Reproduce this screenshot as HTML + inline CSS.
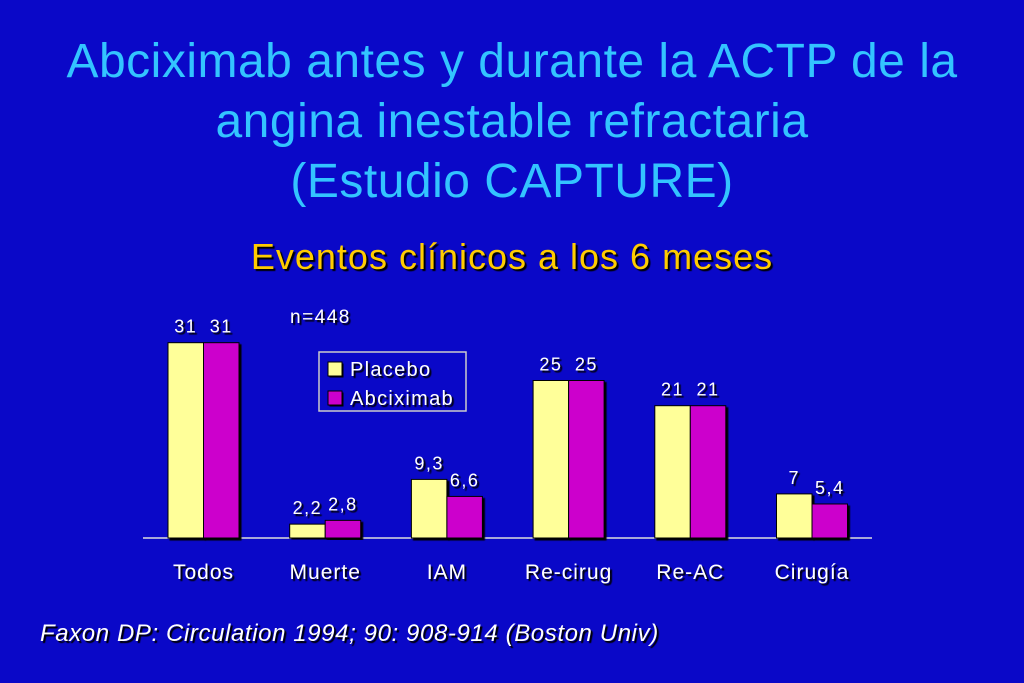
<!DOCTYPE html>
<html><head><meta charset="utf-8"><style>
body{margin:0;width:1024px;height:683px;background:#0a08c8;overflow:hidden;font-family:"Liberation Sans",sans-serif;position:relative}
.t{position:absolute;left:0;width:1024px;text-align:center;color:#33c4ff;font-size:48px;line-height:60px;letter-spacing:0.5px}
.s{position:absolute;left:0;width:1024px;text-align:center;top:236px;color:#ffcc00;font-size:36px;letter-spacing:1px;text-shadow:2px 2px 1px #000}
.ref{position:absolute;left:40px;top:620px;color:#fff;font-style:italic;font-size:24px;letter-spacing:0.6px;text-shadow:2px 2px 1px #000}
svg text{font-family:"Liberation Sans",sans-serif;fill:#fff}
</style></head><body>
<div class="t" style="top:32px">Abciximab antes y durante la ACTP de la<br>angina inestable refractaria<br>(Estudio CAPTURE)</div>
<div class="s">Eventos clínicos a los 6 meses</div>
<div class="ref">Faxon DP: Circulation 1994; 90: 908-914 (Boston Univ)</div>
<svg id="c" width="1024" height="683" style="position:absolute;left:0;top:0">
<defs><filter id="sh"><feDropShadow dx="2" dy="2" stdDeviation="0.5" flood-color="#000"/></filter></defs>
<text x="290" y="323" font-size="19" letter-spacing="1.5" filter="url(#sh)">n=448</text>
<g>
<rect x="319" y="352" width="147" height="59" fill="none" stroke="#ccc" stroke-width="1.5"/>
<rect x="328" y="362" width="14" height="14" fill="#ffff99" stroke="#000" filter="url(#sh)"/>
<text x="350" y="376" font-size="20" letter-spacing="1.3" filter="url(#sh)">Placebo</text>
<rect x="328" y="391" width="14" height="14" fill="#cc00cc" stroke="#000" filter="url(#sh)"/>
<text x="350" y="405" font-size="20" letter-spacing="1.3" filter="url(#sh)">Abciximab</text>
</g>
</svg>
<script>
const categories=["Todos","Muerte","IAM","Re-cirug","Re-AC","Cirugía"];
const placebo=[31,2.2,9.3,25,21,7];
const abciximab=[31,2.8,6.6,25,21,5.4];
const placeboLabels=["31","2,2","9,3","25","21","7"];
const abciximabLabels=["31","2,8","6,6","25","21","5,4"];
const svg=document.getElementById('c');
const NS="http://www.w3.org/2000/svg";
const base=538,scale=6.3,x0=203.5,step=121.7,bw=35.5;
const y=v=>base-v*scale;
const cx=i=>x0+i*step;
function mk(t,a){const e=document.createElementNS(NS,t);for(const k in a)e.setAttribute(k,a[k]);svg.appendChild(e);return e;}
const ax=mk('line',{x1:143,x2:872,y1:base,y2:base,stroke:'#ddd','stroke-width':1.5});


categories.forEach((c,i)=>{
  const b1=mk('rect',{x:cx(i)-bw,y:y(placebo[i]),width:bw,height:placebo[i]*scale,fill:'#ffff99',stroke:'#000',filter:'url(#sh)'});
  
  
  const b2=mk('rect',{x:cx(i),y:y(abciximab[i]),width:bw,height:abciximab[i]*scale,fill:'#cc00cc',stroke:'#000',filter:'url(#sh)'});
  
  
  const l1=mk('text',{x:cx(i)-bw/2,y:y(placebo[i])-10,'font-size':18,'letter-spacing':1.5,'text-anchor':'middle',filter:'url(#sh)'});
  l1.textContent=placeboLabels[i];
  
  
  const l2=mk('text',{x:cx(i)+bw/2,y:y(abciximab[i])-10,'font-size':18,'letter-spacing':1.5,'text-anchor':'middle',filter:'url(#sh)'});
  l2.textContent=abciximabLabels[i];
  
  
  const t=mk('text',{x:cx(i),y:579,'font-size':21,'letter-spacing':1,'text-anchor':'middle',filter:'url(#sh)'});
  t.textContent=c;
  
  
});
</script>
</body></html>
